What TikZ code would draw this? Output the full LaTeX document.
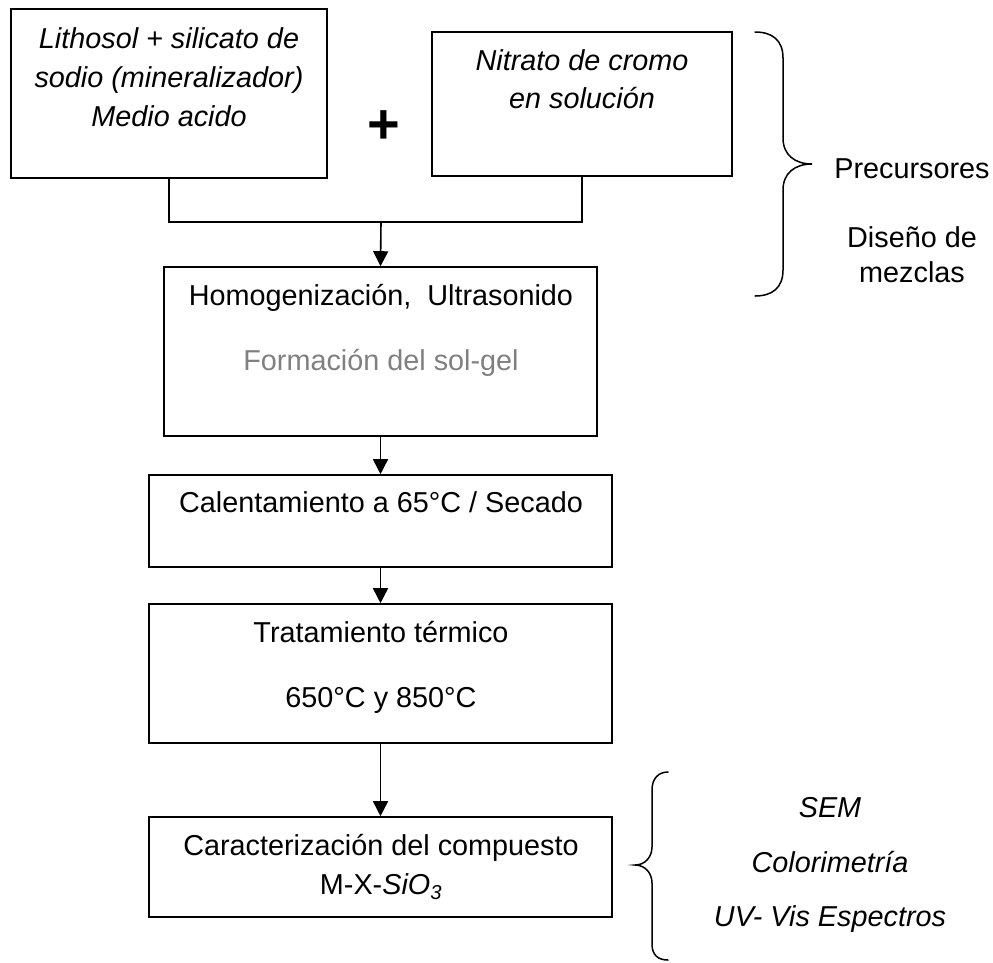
\documentclass[tikz,border=0pt]{standalone}
\usepackage{fontspec}
\setmainfont{Liberation Sans}
\usetikzlibrary{arrows.meta}
\definecolor{solgray}{RGB}{128,128,128}
\begin{document}
\begin{tikzpicture}[x=1pt,y=-1pt,
  box/.style={draw,line width=1.6pt,inner sep=0pt},
  txt/.style={inner sep=0pt,anchor=base,font=\fontsize{28.8}{34}\selectfont},
  itxt/.style={inner sep=0pt,anchor=base,font=\fontsize{28.8}{34}\selectfont\itshape},
  conn/.style={line width=1.6pt},
  arr/.style={line width=1.6pt,-{Triangle[length=15pt,width=15pt]}},
  brace/.style={line width=1.5pt,line cap=round}
]
\useasboundingbox (0,0) rectangle (993,962);

% boxes
\node[box,minimum width=316pt,minimum height=169pt] (b1) at (169,93.5) {};
\node[box,minimum width=300pt,minimum height=144pt] (b2) at (582,104) {};
\node[box,minimum width=433pt,minimum height=169pt] (b3) at (380.5,351.5) {};
\node[box,minimum width=463pt,minimum height=92pt] (b4) at (380.5,521) {};
\node[box,minimum width=463pt,minimum height=139pt] (b5) at (380.5,673.5) {};
\node[box,minimum width=463pt,minimum height=100pt] (b6) at (380.5,867) {};

% texts
\node[itxt] (t1a) at (169,48) {Lithosol + silicato de};
\node[itxt] (t1b) at (169,87) {sodio (mineralizador)};
\node[itxt] (t1c) at (169,126) {Medio acido};
\node[inner sep=0pt,anchor=base,font=\fontsize{56}{60}\selectfont\bfseries] (plus) at (384,143) {+};
\node[itxt] (t2a) at (582,70) {Nitrato de cromo};
\node[itxt] (t2b) at (582,108) {en solución};
\node[txt] (t3a) at (381,305) {Homogenización,\ \ Ultrasonido};
\node[txt,text=solgray] (t3b) at (381,370) {Formación del sol-gel};
\node[txt] (t4a) at (381,512) {Calentamiento a 65°C / Secado};
\node[txt] (t5a) at (381,642) {Tratamiento térmico};
\node[txt] (t5b) at (381,707) {650°C y 850°C};
\node[txt] (t6a) at (381,855) {Caracterización del compuesto};
\node[txt] (t6b) at (381,894) {M-X-\textit{SiO\textsubscript{3}}};

\node[txt] (p1) at (912,178) {Precursores};
\node[txt] (p2) at (912,247) {Diseño de};
\node[txt] (p3) at (912,282) {mezclas};

\node[itxt] (c1) at (830,817) {SEM};
\node[itxt] (c2) at (830,872) {Colorimetría};
\node[itxt] (c3) at (830,926) {UV- Vis Espectros};

% connectors
\coordinate (j) at (381,222);
\draw[conn] (b1.south) |- (j) -| (b2.south);
\draw[arr] (j) -- (b3.north);
\draw[arr] (b3.south) -- (b4.north);
\draw[arr] (b4.south) -- (b5.north);
\draw[arr] (b5.south) -- (b6.north);

% braces
\draw[brace] (755,32) .. controls (772,32) and (783,40) .. (783,58) -- (783,138)
  .. controls (783,155) and (795,164) .. (812,164)
  .. controls (795,164) and (783,173) .. (783,190) -- (783,270)
  .. controls (783,288) and (772,296) .. (755,296);
\draw[brace] (668,772) .. controls (658,772) and (652,779) .. (652,790) -- (652,847)
  .. controls (652,857) and (645,865) .. (635,865)
  .. controls (645,865) and (652,873) .. (652,883) -- (652,944)
  .. controls (652,955) and (658,960) .. (668,960);
\end{tikzpicture}
\end{document}
